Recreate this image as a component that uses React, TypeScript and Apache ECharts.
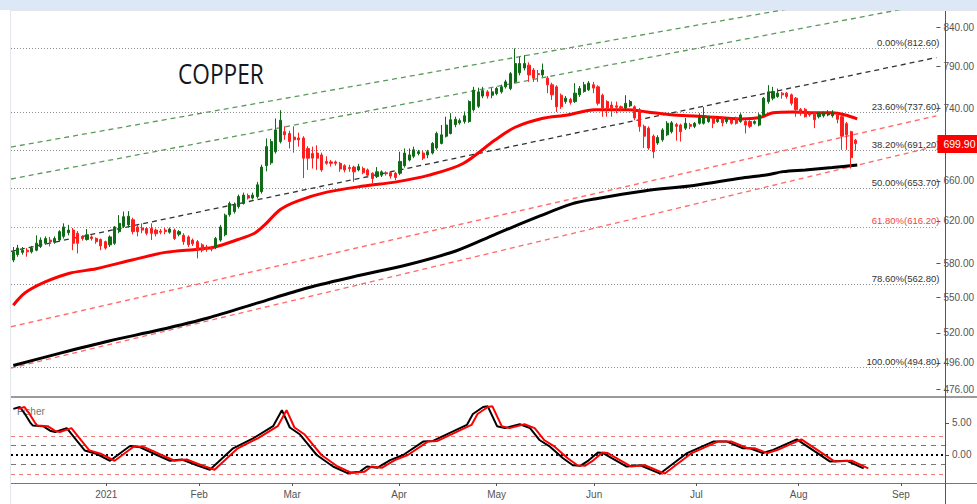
import React, { useEffect, useRef } from "react";
import * as echarts from "echarts";

// ---------- categories (trading days) ----------
const categoryCount = 201;
const firstDate = "2020-12-03";
const closedDays = ["2020-12-25", "2021-01-01", "2021-04-02"];
const monthNames = ["Jan", "Feb", "Mar", "Apr", "May", "Jun", "Jul", "Aug", "Sep", "Oct", "Nov", "Dec"];

// ---------- OHLC ----------
const opens = [
  583, 588, 590, 592, 590.5, 592, 595.5, 598.5, 601.5, 599.5,
  601.5, 605, 608.5, 611, 608, 604.5, 602, 604.5, 603, 602,
  600, 597, 598.5, 609.5, 614.5, 616, 621, 614, 613, 612.5,
  612.5, 611, 610, 611, 609, 611, 607, 606, 604.5, 601.5,
  600, 597, 595, 594, 595, 601.5, 606.5, 626, 629, 634,
  637, 645, 642.5, 644, 649, 676, 679, 691, 702, 713,
  711, 707, 706, 706, 694.5, 689, 689.5, 687.5, 680.5, 680,
  680, 678.5, 676, 674, 674.5, 671.5, 673, 671.5, 668, 664.5,
  666, 668.5, 668.5, 668, 668, 676, 682, 686, 689, 689.5,
  687.5, 689.5, 695, 700, 708, 711, 721, 723, 724.5, 724.5,
  738, 742, 754, 759, 755, 757, 759, 765, 763, 771,
  782, 788, 791.5, 785.5, 781, 779.5, 775.5, 767.5, 765, 755,
  747.5, 750, 747.5, 755.5, 759.5, 761.5, 767.5, 765, 755, 747.5,
  743.5, 742.5, 741.5, 740, 742.5, 741.5, 738, 719, 717, 708,
  700.5, 704, 709.5, 713, 721, 720.5, 717, 721, 719, 722.5,
  722.5, 724.5, 728.5, 724.5, 728.5, 724.5, 726.5, 728.5, 724.5, 724.5,
  724.5, 722.5, 720.5, 732, 747.5, 751.5, 753.5, 757.5, 757.5, 755.5,
  751.5, 738.5, 738.5, 734, 734.5, 730, 731, 732, 731, 732,
  730, 722, 713, 703.5
];
const closes = [
  590.5, 594, 592, 590.5, 594, 598.5, 601.5, 603, 600, 603,
  609.5, 614, 611, 598.5, 598.5, 603, 606.5, 603, 600, 596,
  594, 604.5, 614, 617.5, 624, 624.5, 609.5, 609.5, 611, 608,
  608, 607.5, 609, 609.5, 612, 603, 609.5, 600, 597, 598,
  592, 592, 593, 593, 603, 614, 625.5, 637, 635.5, 644,
  645.5, 642.5, 645.5, 656, 674.5, 696.5, 702, 715, 726, 709.5,
  702, 704, 704, 684, 684, 684, 684, 671.5, 678.5, 678.5,
  678.5, 672.5, 671.5, 673, 669.5, 675, 668.5, 666, 662.5, 669.5,
  669.5, 667.5, 665, 663.5, 680.5, 689.5, 687.5, 693, 691, 684,
  691, 700, 711, 709.5, 720.5, 726.5, 727, 725.5, 731, 747.5,
  761, 759, 760.5, 754, 759, 763, 765, 771, 781, 793.5,
  793.5, 793.5, 779.5, 775.5, 780, 785.5, 767.5, 755.5, 741.5, 741.5,
  751.5, 746.5, 757.5, 763, 767.5, 769.5, 763.5, 745.5, 740, 740,
  740, 741, 740, 745.5, 747.5, 728.5, 719, 708, 695, 691,
  706.5, 715, 722.5, 723, 719, 713, 722.5, 719, 722.5, 729,
  730, 728.5, 722.5, 727, 723, 727, 722.5, 722.5, 732, 720.5,
  719, 724.5, 732, 751.5, 759, 759.5, 757.5, 755.5, 753.5, 745.5,
  738, 734, 730, 732, 726.5, 734, 734.5, 734, 734.5, 727,
  708, 709.5, 684.5, 699.9
];
const highs = [
  595, 597, 595, 594, 596, 606, 604, 605, 604.5, 605,
  611, 617.5, 616, 613, 610, 606, 612, 606, 604, 603,
  601, 606, 615, 625.5, 629, 629.5, 623, 616, 617.5, 614,
  617.5, 612.5, 612, 613, 613.5, 612.5, 611, 608, 606, 603,
  601.5, 598.5, 597, 596, 604.5, 616, 627, 639, 638, 646,
  648, 647, 648, 659, 677, 705.5, 705, 728, 737.5, 719,
  714, 719, 712, 708, 697, 696.5, 698, 690, 686, 682,
  681.5, 680, 677.5, 677, 676, 678, 675, 673, 669, 674.5,
  671, 670, 670, 669.5, 691, 694.5, 694.5, 696.5, 693, 692,
  693, 701.5, 713, 720.5, 730, 734, 730, 728, 736, 749,
  765, 764, 765, 761, 763.5, 765, 767.5, 773.5, 783, 812.6,
  802, 804, 795, 788, 785.5, 793.5, 778, 770, 767, 757,
  754, 752, 769.5, 766, 771, 772, 771, 767, 757, 749,
  747.5, 747.5, 743, 755, 749.5, 743, 740, 721, 719, 710,
  709, 717, 725, 725, 723, 722, 728.5, 723, 724, 734,
  741, 731, 730, 729, 730, 729, 728, 730, 734, 726,
  726, 726, 734, 753, 767, 765, 763, 759, 759, 757,
  753, 740, 740, 735.5, 736, 735.5, 736, 737.5, 737.5, 734,
  732, 724, 714, 705
];
const lows = [
  581, 586, 588, 586, 589, 591, 594, 597, 595.5, 598,
  600, 603, 606, 592, 589, 601, 601, 601, 598, 592,
  592.5, 595, 597, 608, 613, 614, 607, 605, 608, 606,
  601.5, 605, 607, 607, 607.5, 601.5, 605, 597, 595, 596,
  584.5, 590, 590.5, 591, 593, 600, 605, 624, 627, 632,
  636, 641, 641, 642, 647, 670, 677, 689, 700, 704,
  694.5, 690, 696.5, 663, 671.5, 673, 671.5, 669.5, 677, 675,
  676, 669.5, 669, 669.5, 659, 670, 667, 663.5, 657.5, 663,
  664, 665.5, 662.5, 661, 666, 674, 680.5, 684, 687, 682,
  684, 688, 693, 699, 706.5, 710, 718, 721, 722, 723,
  736, 740, 751.5, 751, 751.5, 755, 757, 763, 761, 769,
  779, 785, 771, 771, 771, 777, 757.5, 749.5, 735.5, 739,
  745, 744, 746, 753, 758, 760, 757.5, 743, 730, 730,
  730, 734, 736, 738, 741, 726, 713, 695, 693, 684,
  698.5, 702, 708, 711, 703, 702, 715, 716, 717, 721,
  721, 723, 717, 723, 719, 722, 721, 721, 723, 711,
  717, 721, 719, 730, 745, 749, 752, 751, 751, 743,
  730, 731, 729, 730, 717, 728, 729, 730.5, 729, 722.5,
  693, 693, 673, 692
];

// ---------- moving averages: [bar index, price] ----------
const redMaPoints = [
  [0, 543], [2.5, 553.5], [6.8, 563], [12.2, 571], [18, 575], [25.8, 583], [33, 590],
  [40.2, 593], [43.8, 595], [48.8, 602], [52.4, 608], [54.6, 616], [58, 631], [61.7, 639.5],
  [68.1, 648.5], [76.1, 654.7], [83.2, 659], [90.3, 666], [97.6, 678], [104.7, 704],
  [109, 718], [114.8, 728], [120.4, 732], [126.3, 738], [133.4, 738], [137.7, 735.5],
  [143.5, 732], [150.6, 730], [157.9, 727.5], [162.2, 729], [165, 734.5], [169.3, 735.5],
  [173.6, 734.5], [177.9, 734.5], [180.7, 732], [183.3, 727.5]
];
const blackMaPoints = [
  [0, 494], [10, 503.5], [20.8, 513.4], [31.6, 522.3], [42.3, 532.3], [53.1, 545],
  [63.8, 557.9], [74.5, 568.5], [85.4, 578.4], [96.1, 591.3], [104.7, 607], [114.4, 624.7],
  [121.3, 636.6], [126.3, 641.6], [137, 649.7], [147.8, 655.3], [157.9, 662.7],
  [163.5, 666.2], [167.2, 669.7], [172, 671.5], [177.9, 674], [183.3, 676.8]
];

// ---------- Fisher transform: [bar index, value] ----------
const fisherPoints = [
  [0, 7.2], [1.4, 7.5], [2.5, 6.4], [3.6, 5.1], [4.2, 4.6], [6.4, 4.5], [7.9, 3.8], [9, 3.6],
  [11.5, 4.2], [13.7, 2.2], [15.4, 0.7], [18, 0.15], [20.8, -0.9], [25.1, 1.4], [27.3, 1.2],
  [30.9, 0], [33.7, -0.9], [36.3, -0.7], [39.5, -1.6], [42.3, -2.3], [47.3, 1.05], [51.6, 2.6],
  [55.9, 4.5], [57.8, 7.0], [59.5, 4.3], [61.7, 3.2], [65.3, 0], [68.8, -1.8], [71.8, -2.8],
  [74.6, -2.6], [76.1, -1.8], [78.3, -2.0], [81.1, -0.8], [83.9, 0], [88.2, 2.1], [90.3, 2.2],
  [97.6, 4.7], [98.9, 6.4], [101.1, 7.5], [102.1, 7.6], [104.1, 4.5], [105.8, 4.2], [109, 4.8],
  [111.2, 4.2], [113.3, 2.3], [115.5, 1.3], [118.3, -0.5], [120.4, -1.6], [122, -1.7],
  [123.5, -1.0], [125.8, 0.4], [126.9, 0.3], [132, -1.8], [134.9, -1.6], [139.2, -2.9],
  [145, 0.3], [150.6, 2.1], [153.6, 2.1], [157, 1.05], [158.5, 1.05], [161.3, 0.3],
  [163.5, 0.8], [168.6, 2.45], [172, 0.8], [175.7, -1.0], [179.4, -0.9], [183, -2.1]
];
const fisherTriggerLag = 1;

// ---------- trend lines: two [bar index, price] points each ----------
const greenUpperLine = [[-0.5, 696], [200.5, 901]];
const greenLowerLine = [[-0.5, 662], [200.5, 873]];
const blackTrendLine = [[-0.5, 591], [200.5, 801]];
const redUpperLine = [[-0.5, 525], [200.5, 731]];
const redLowerLine = [[-0.5, 492], [200.5, 697]];

// ---------- Fibonacci levels ----------
const fibPercents = ["0.00%", "23.60%", "38.20%", "50.00%", "61.80%", "78.60%", "100.00%"];
const fibValues = [812.6, 737.6, 691.2, 653.7, 616.2, 562.8, 494.8];

// ---------- axes ----------
const priceTicks = [840, 790, 740, 660, 620, 580, 550, 520, 496, 476];
const priceMin = 470.2;
const priceMax = 861.7;
const fisherTicks = [0, 5];
const fisherLevels = [3, 1.5, 0, -1.5, -3];
const fisherMin = -4.375;
const fisherMax = 9.06;

const title = "COPPER";
const indicatorName = "Fisher";

function buildDates(): string[] {
  const out: string[] = [];
  const d = new Date(firstDate + "T00:00:00Z");
  while (out.length < categoryCount) {
    const wd = d.getUTCDay();
    const s = d.toISOString().slice(0, 10);
    if (wd !== 0 && wd !== 6 && !closedDays.includes(s)) out.push(s);
    d.setUTCDate(d.getUTCDate() + 1);
  }
  return out;
}

const FONT = "'Liberation Sans', Arial, sans-serif";

export default function App() {
  const ref = useRef<HTMLDivElement>(null);

  useEffect(() => {
    document.body.style.margin = "0";
    if (!ref.current) return;
    const chart = echarts.init(ref.current, undefined, { renderer: "svg" });

    const dates = buildDates();
    const monthStart = dates.map((d, i) => i > 0 && d.slice(5, 7) !== dates[i - 1].slice(5, 7));
    const L = Math.log;
    const logPts = (pts: number[][]) => pts.map((p) => [p[0], L(p[1])]);

    const candleData = opens.map((o, i) => [L(o), L(closes[i]), L(lows[i]), L(highs[i])]);
    const lastClose = closes[closes.length - 1];

    const fibMarks = fibValues.map((v, i) => {
      const isRed = fibPercents[i] === "61.80%";
      return {
        yAxis: L(v),
        lineStyle: { type: [1, 2], color: isRed ? "#f07070" : "#8c8c8c", width: 1 },
        label: {
          show: true,
          position: "insideEndTop",
          distance: [-3, 1],
          formatter: `${fibPercents[i]}(${v.toFixed(2)})`,
          color: isRed ? "#f04545" : "#333",
          fontSize: 9.5,
          fontFamily: FONT,
        },
      };
    });

    const trend = (pts: number[][], color: string) => ({
      type: "line",
      xAxisIndex: 1,
      yAxisIndex: 0,
      data: logPts(pts),
      symbol: "none",
      silent: true,
      clip: true,
      lineStyle: { color, width: 1.3, type: [5, 4] },
      z: 3,
    });

    const levelStyle = (lv: number) =>
      lv === 0
        ? { color: "#000", width: 2, type: [2, 3] }
        : Math.abs(lv) >= 3
        ? { color: "#f47a7a", width: 1, type: [4, 4] }
        : { color: "#777", width: 1, type: [5, 5] };

    const option: any = {
      animation: false,
      backgroundColor: "#ffffff",
      grid: [
        { left: 11, right: 32, top: 11, bottom: 107 },
        { left: 11, right: 32, top: 397, bottom: 21 },
      ],
      xAxis: [
        { type: "category", gridIndex: 0, data: dates, boundaryGap: true, show: false },
        { type: "value", gridIndex: 0, min: -0.5, max: categoryCount - 0.5, show: false },
        {
          type: "category",
          gridIndex: 1,
          data: dates,
          boundaryGap: true,
          axisLine: { show: false, onZero: false },
          axisTick: {
            show: true,
            alignWithLabel: true,
            interval: (i: number) => monthStart[i],
            length: 3,
            lineStyle: { color: "#555" },
          },
          axisLabel: {
            interval: (i: number) => monthStart[i],
            formatter: (v: string) => {
              const m = +v.slice(5, 7);
              return m === 1 ? v.slice(0, 4) : monthNames[m - 1];
            },
            color: "#555",
            fontSize: 10,
            fontFamily: FONT,
            margin: 6,
          },
          splitLine: { show: false },
        },
        { type: "value", gridIndex: 1, min: -0.5, max: categoryCount - 0.5, show: false },
      ],
      yAxis: [
        {
          type: "value",
          gridIndex: 0,
          position: "right",
          min: L(priceMin),
          max: L(priceMax),
          axisLine: { show: false, onZero: false },
          splitLine: { show: false },
          axisTick: {
            show: true,
            customValues: priceTicks.map(L),
            length: 4,
            lineStyle: { color: "#555" },
          },
          axisLabel: {
            customValues: priceTicks.map(L),
            formatter: (v: number) => Math.exp(v).toFixed(2),
            color: "#555",
            fontSize: 10,
            fontFamily: FONT,
            margin: 7,
          },
        },
        {
          type: "value",
          gridIndex: 1,
          position: "right",
          min: fisherMin,
          max: fisherMax,
          axisLine: { show: false, onZero: false },
          splitLine: { show: false },
          axisTick: { show: true, customValues: fisherTicks, length: 4, lineStyle: { color: "#555" } },
          axisLabel: {
            customValues: fisherTicks,
            formatter: (v: number) => v.toFixed(2),
            color: "#555",
            fontSize: 10,
            fontFamily: FONT,
            margin: 7,
          },
        },
      ],
      series: [
        trend(greenUpperLine, "#5c9a5c"),
        trend(greenLowerLine, "#5c9a5c"),
        trend(blackTrendLine, "#333333"),
        trend(redUpperLine, "#ff6a6a"),
        trend(redLowerLine, "#ff6a6a"),
        {
          type: "line",
          xAxisIndex: 1,
          yAxisIndex: 0,
          data: logPts(blackMaPoints),
          symbol: "none",
          smooth: 0.3,
          silent: true,
          lineStyle: { color: "#000", width: 3 },
          z: 4,
        },
        {
          type: "line",
          xAxisIndex: 1,
          yAxisIndex: 0,
          data: logPts(redMaPoints),
          symbol: "none",
          smooth: 0.3,
          silent: true,
          lineStyle: { color: "#ff0000", width: 3 },
          z: 4,
        },
        {
          type: "candlestick",
          xAxisIndex: 0,
          yAxisIndex: 0,
          data: candleData,
          barWidth: 2.6,
          silent: true,
          z: 5,
          itemStyle: {
            color: "#0f6b16",
            color0: "#ff1e1e",
            borderColor: "#0f6b16",
            borderColor0: "#ff1e1e",
            borderWidth: 1,
          },
          markLine: {
            silent: true,
            symbol: ["none", "none"],
            animation: false,
            z: 2,
            data: fibMarks,
          },
        },
        {
          type: "line",
          xAxisIndex: 1,
          yAxisIndex: 0,
          data: [],
          silent: true,
          z: 10,
          markLine: {
            silent: true,
            symbol: ["none", "none"],
            animation: false,
            z: 10,
            data: [
              {
                yAxis: L(lastClose),
                lineStyle: { color: "rgba(0,0,0,0)", width: 1 },
                label: {
                  show: true,
                  position: "end",
                  distance: 1,
                  formatter: lastClose.toFixed(2),
                  backgroundColor: "#ff0000",
                  color: "#ffffff",
                  padding: [4, 4, 3, 6],
                  fontSize: 10.5,
                  fontFamily: FONT,
                },
              },
            ],
          },
        },
        {
          type: "line",
          xAxisIndex: 3,
          yAxisIndex: 1,
          data: fisherPoints,
          symbol: "none",
          silent: true,
          lineStyle: { color: "#000", width: 2 },
          z: 4,
          markLine: {
            silent: true,
            symbol: ["none", "none"],
            z: 2,
            label: { show: false },
            data: fisherLevels.map((lv) => ({ yAxis: lv, lineStyle: levelStyle(lv) })),
          },
        },
        {
          type: "line",
          xAxisIndex: 3,
          yAxisIndex: 1,
          data: fisherPoints.map((p) => [p[0] + fisherTriggerLag, p[1]]),
          symbol: "none",
          silent: true,
          lineStyle: { color: "#ff0000", width: 2 },
          z: 4,
        },
      ],
      graphic: [
        { type: "rect", shape: { x: 0, y: 0, width: 977, height: 10 }, style: { fill: "#dce8f5" }, silent: true },
        { type: "line", shape: { x1: 10, y1: 10.5, x2: 977, y2: 10.5 }, style: { stroke: "#e3e6ec", lineWidth: 1 }, silent: true },
        { type: "line", shape: { x1: 10.5, y1: 10, x2: 10.5, y2: 504 }, style: { stroke: "#e3e6ec", lineWidth: 1 }, silent: true },
        { type: "line", shape: { x1: 11, y1: 397, x2: 977, y2: 397 }, style: { stroke: "#9a9a9a", lineWidth: 2 }, silent: true },
        { type: "line", shape: { x1: 11, y1: 483.5, x2: 977, y2: 483.5 }, style: { stroke: "#777", lineWidth: 1 }, silent: true },
        { type: "line", shape: { x1: 945.5, y1: 11, x2: 945.5, y2: 504 }, style: { stroke: "#555", lineWidth: 1 }, silent: true },
        {
          type: "text",
          x: 178,
          y: 73,
          scaleX: 0.84,
          silent: true,
          style: {
            text: title,
            fontSize: 27,
            fontFamily: "'Open Sans', sans-serif",
            fill: "#131722",
            textVerticalAlign: "middle",
          },
        },
        {
          type: "text",
          x: 17,
          y: 411,
          silent: true,
          z: 1,
          style: {
            text: indicatorName,
            fontSize: 10,
            fontFamily: FONT,
            fill: "#777",
            textVerticalAlign: "middle",
          },
        },
      ],
    };

    chart.setOption(option);
    return () => chart.dispose();
  }, []);

  return (
    <div
      ref={ref}
      style={{ position: "absolute", left: 0, top: 0, width: 977, height: 504 }}
    />
  );
}
